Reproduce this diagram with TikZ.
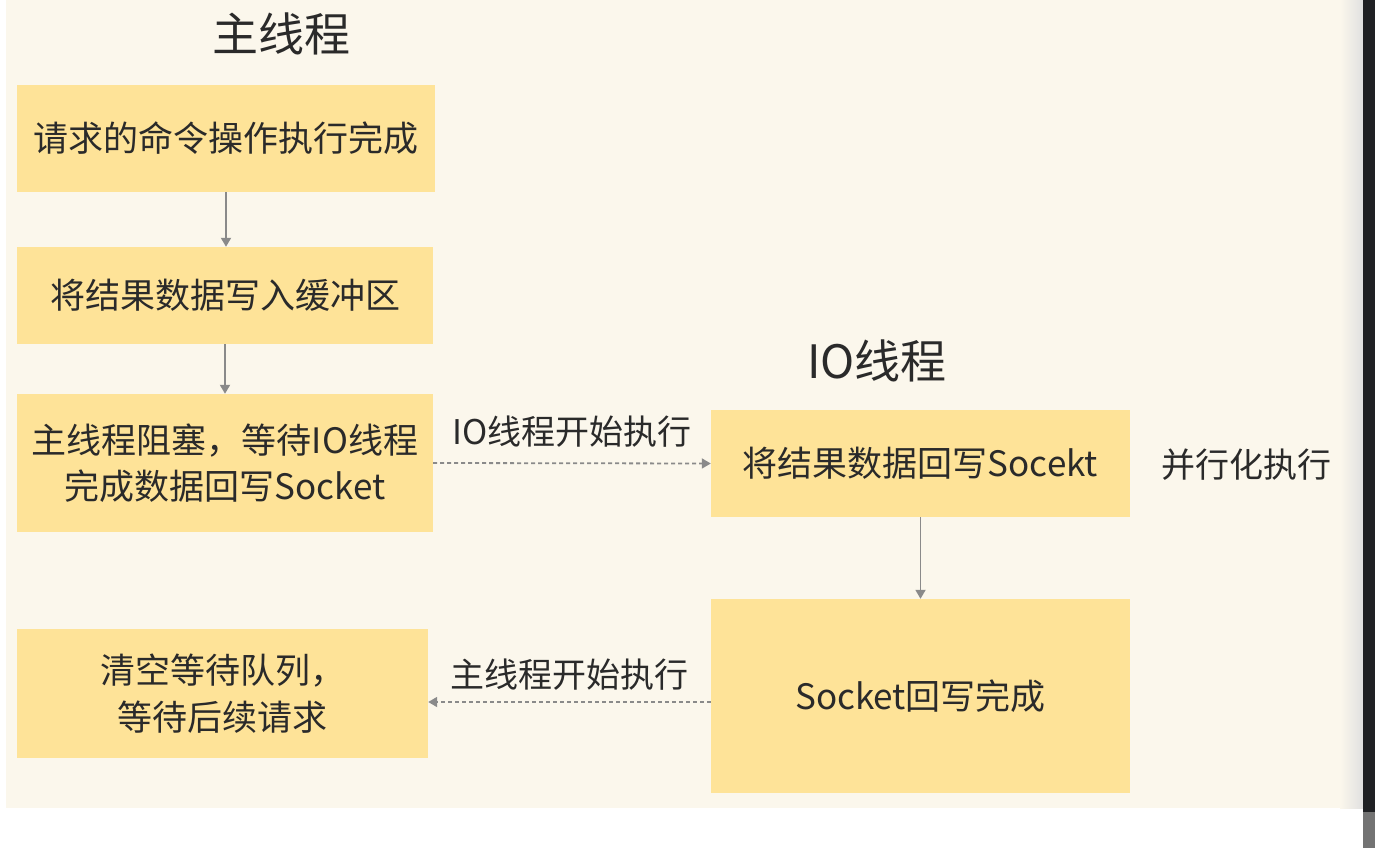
\documentclass[tikz,border=0pt]{standalone}
\usepackage{fontspec}
\setmainfont{Noto Sans CJK SC}
\usetikzlibrary{arrows.meta}
\definecolor{cream}{HTML}{FBF7EC}
\definecolor{boxfill}{HTML}{FEE398}
\definecolor{txt}{HTML}{2A2A2A}
\definecolor{arr}{HTML}{8A8A8A}
\definecolor{darkbar}{HTML}{202124}
\begin{document}
\begin{tikzpicture}[x=1pt,y=-1pt,
  stepbox/.style={rectangle, fill=boxfill, draw=none, inner sep=0pt, align=center, text=txt},
  boxtxt/.style={font=\fontsize{35}{46.5}\selectfont},
  titletxt/.style={text=txt, inner sep=0pt, font=\fontsize{46}{50}\selectfont},
  labeltxt/.style={text=txt, inner sep=0pt, font=\fontsize{34}{40}\selectfont},
  solidarrow/.style={draw=arr, line width=1.8pt, -{Triangle[width=10pt,length=9pt]}},
  dotarrow/.style={draw=arr, line width=1.8pt, dash pattern=on 4pt off 3pt, -{Triangle[width=10pt,length=9pt]}}
]
\useasboundingbox (0,0) rectangle (1375,848);
\fill[white] (0,0) rectangle (1375,848);
\fill[cream] (6,0) rectangle (1363,808);
\shade[left color=cream, right color=black!12] (1340,0) rectangle (1363,808);
\fill[darkbar] (1363,0) rectangle (1375,848);
\fill[black!55] (1363,812) rectangle (1375,848);

\node[titletxt] (t1) at (281,34) {主线程};
\node[titletxt] (t2) at (877,361) {IO线程};

\node[stepbox, boxtxt, minimum width=418pt, minimum height=107pt] (b1) at (226,138.5) {请求的命令操作执行完成};
\node[stepbox, boxtxt, minimum width=416pt, minimum height=97pt] (b2) at (225,295.5) {将结果数据写入缓冲区};
\node[stepbox, boxtxt, minimum width=416pt, minimum height=138pt] (b3) at (225,463) {主线程阻塞，等待IO线程\\完成数据回写Socket};
\node[stepbox, boxtxt, minimum width=411pt, minimum height=129pt] (b4) at (222.5,693.5) {清空等待队列，\\等待后续请求};
\node[stepbox, boxtxt, minimum width=419pt, minimum height=107pt] (b5) at (920.5,463.5) {将结果数据回写Socekt};
\node[stepbox, boxtxt, minimum width=419pt, minimum height=194pt] (b6) at (920.5,696) {Socket回写完成};

\node[labeltxt] (l1) at (572,432) {IO线程开始执行};
\node[labeltxt] (l2) at (569,675) {主线程开始执行};
\node[labeltxt] (l3) at (1246,465) {并行化执行};

\draw[solidarrow] (b1.south) -- (b1.south |- b2.north);
\draw[solidarrow] (b2.south) -- (b3.north);
\draw[solidarrow] (b5.south) -- (b6.north);
\draw[dotarrow] (b3.east) -- (b5.west);
\draw[dotarrow] ([yshift=-6pt]b6.west) -- ([yshift=-6pt]b6.west -| b4.east);
\end{tikzpicture}
\end{document}
